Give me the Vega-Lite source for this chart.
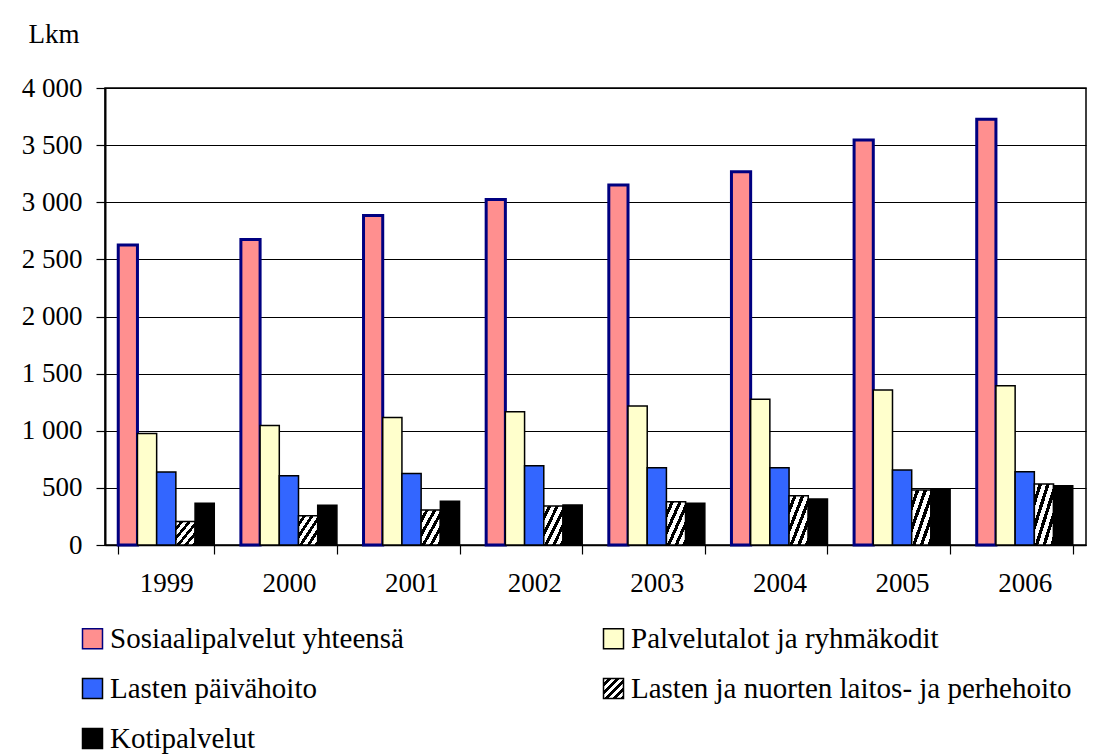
{
  "$schema": "https://vega.github.io/schema/vega-lite/v6.json",
  "width": 981,
  "height": 457,
  "autosize": {"type": "none"},
  "padding": {"left": 105, "top": 88, "right": 13, "bottom": 211},
  "background": "white",
  "config": {
    "font": "Liberation Serif",
    "view": {"stroke": "#000", "strokeWidth": 1.5},
    "axis": {"labelColor": "#000", "titleColor": "#000", "tickColor": "#000", "domainColor": "#000", "labelFont": "Liberation Serif", "titleFont": "Liberation Serif"},
    "legend": {"labelFont": "Liberation Serif", "labelColor": "#000"}
  },
  "data": {
    "values": [
      {"year": "1999", "series": "Sosiaalipalvelut yhteensä", "value": 2625},
      {"year": "1999", "series": "Palvelutalot ja ryhmäkodit", "value": 975},
      {"year": "1999", "series": "Lasten päivähoito", "value": 640},
      {"year": "1999", "series": "Lasten ja nuorten laitos- ja perhehoito", "value": 205},
      {"year": "1999", "series": "Kotipalvelut", "value": 365},
      {"year": "2000", "series": "Sosiaalipalvelut yhteensä", "value": 2675},
      {"year": "2000", "series": "Palvelutalot ja ryhmäkodit", "value": 1045},
      {"year": "2000", "series": "Lasten päivähoito", "value": 607},
      {"year": "2000", "series": "Lasten ja nuorten laitos- ja perhehoito", "value": 257},
      {"year": "2000", "series": "Kotipalvelut", "value": 347},
      {"year": "2001", "series": "Sosiaalipalvelut yhteensä", "value": 2885},
      {"year": "2001", "series": "Palvelutalot ja ryhmäkodit", "value": 1115},
      {"year": "2001", "series": "Lasten päivähoito", "value": 625},
      {"year": "2001", "series": "Lasten ja nuorten laitos- ja perhehoito", "value": 306},
      {"year": "2001", "series": "Kotipalvelut", "value": 382},
      {"year": "2002", "series": "Sosiaalipalvelut yhteensä", "value": 3025},
      {"year": "2002", "series": "Palvelutalot ja ryhmäkodit", "value": 1167},
      {"year": "2002", "series": "Lasten päivähoito", "value": 694},
      {"year": "2002", "series": "Lasten ja nuorten laitos- ja perhehoito", "value": 341},
      {"year": "2002", "series": "Kotipalvelut", "value": 350},
      {"year": "2003", "series": "Sosiaalipalvelut yhteensä", "value": 3150},
      {"year": "2003", "series": "Palvelutalot ja ryhmäkodit", "value": 1217},
      {"year": "2003", "series": "Lasten päivähoito", "value": 677},
      {"year": "2003", "series": "Lasten ja nuorten laitos- ja perhehoito", "value": 379},
      {"year": "2003", "series": "Kotipalvelut", "value": 365},
      {"year": "2004", "series": "Sosiaalipalvelut yhteensä", "value": 3268},
      {"year": "2004", "series": "Palvelutalot ja ryhmäkodit", "value": 1275},
      {"year": "2004", "series": "Lasten päivähoito", "value": 677},
      {"year": "2004", "series": "Lasten ja nuorten laitos- ja perhehoito", "value": 432},
      {"year": "2004", "series": "Kotipalvelut", "value": 403},
      {"year": "2005", "series": "Sosiaalipalvelut yhteensä", "value": 3545},
      {"year": "2005", "series": "Palvelutalot ja ryhmäkodit", "value": 1357},
      {"year": "2005", "series": "Lasten päivähoito", "value": 656},
      {"year": "2005", "series": "Lasten ja nuorten laitos- ja perhehoito", "value": 481},
      {"year": "2005", "series": "Kotipalvelut", "value": 490},
      {"year": "2006", "series": "Sosiaalipalvelut yhteensä", "value": 3726},
      {"year": "2006", "series": "Palvelutalot ja ryhmäkodit", "value": 1394},
      {"year": "2006", "series": "Lasten päivähoito", "value": 642},
      {"year": "2006", "series": "Lasten ja nuorten laitos- ja perhehoito", "value": 534},
      {"year": "2006", "series": "Kotipalvelut", "value": 519}
    ]
  },
  "mark": {"type": "bar"},
  "encoding": {
    "x": {
      "field": "year",
      "type": "nominal",
      "scale": {"paddingInner": 0.217, "paddingOuter": 0.108},
      "axis": {"title": null, "labelAngle": 0, "labelFont": "Liberation Serif", "labelFontSize": 27, "labelColor": "#000", "tickBand": "extent", "tickSize": 9, "labelPadding": 16, "domainWidth": 1.5, "domainColor": "#000", "tickColor": "#000", "tickWidth": 1.2, "grid": false}
    },
    "xOffset": {
      "field": "series",
      "type": "nominal",
      "sort": ["Sosiaalipalvelut yhteensä", "Palvelutalot ja ryhmäkodit", "Lasten päivähoito", "Lasten ja nuorten laitos- ja perhehoito", "Kotipalvelut"]
    },
    "y": {
      "field": "value",
      "type": "quantitative",
      "scale": {"domain": [0, 4000], "nice": false},
      "axis": {
        "title": "Lkm",
        "titleFont": "Liberation Serif",
        "titleColor": "#000",
        "titleAngle": 0,
        "titleAlign": "left",
        "titleBaseline": "alphabetic",
        "titleX": -77,
        "titleY": -46,
        "titleFontSize": 27,
        "titleFontWeight": "normal",
        "values": [0, 500, 1000, 1500, 2000, 2500, 3000, 3500, 4000],
        "labelExpr": "replace(format(datum.value, ','), ',', ' ')",
        "labelFont": "Liberation Serif",
        "labelColor": "#000",
        "labelFontSize": 27,
        "labelPadding": 14,
        "tickSize": 9,
        "tickColor": "#000",
        "tickWidth": 1.2,
        "domainColor": "#000",
        "domainWidth": 2,
        "grid": true,
        "gridColor": "#000",
        "gridWidth": 1
      }
    },
    "fill": {
      "field": "series",
      "type": "nominal",
      "scale": {
        "domain": ["Sosiaalipalvelut yhteensä", "Palvelutalot ja ryhmäkodit", "Lasten päivähoito", "Lasten ja nuorten laitos- ja perhehoito", "Kotipalvelut"],
        "range": [
          "#ff8f8f",
          "#ffffcc",
          "#3366ff",
          {"expr": "{gradient: 'linear', x1: 0, y1: 0, x2: 1, y2: 1, stops: [{offset: 0, color: '#fff'}, {offset: 0.11, color: '#fff'}, {offset: 0.11, color: '#000'}, {offset: 0.2, color: '#000'}, {offset: 0.2, color: '#fff'}, {offset: 0.31, color: '#fff'}, {offset: 0.31, color: '#000'}, {offset: 0.4, color: '#000'}, {offset: 0.4, color: '#fff'}, {offset: 0.51, color: '#fff'}, {offset: 0.51, color: '#000'}, {offset: 0.6, color: '#000'}, {offset: 0.6, color: '#fff'}, {offset: 0.71, color: '#fff'}, {offset: 0.71, color: '#000'}, {offset: 0.8, color: '#000'}, {offset: 0.8, color: '#fff'}, {offset: 0.91, color: '#fff'}, {offset: 0.91, color: '#000'}, {offset: 1, color: '#000'}]}"},
          "#000000"
        ]
      },
      "legend": {
        "title": null,
        "orient": "none",
        "legendX": -27,
        "legendY": 536,
        "direction": "horizontal",
        "columns": 2,
        "columnPadding": 195,
        "rowPadding": 20,
        "symbolType": "square",
        "symbolSize": 400,
        "symbolStrokeWidth": 1.5,
        "labelFont": "Liberation Serif",
        "labelColor": "#000",
        "labelFontSize": 29,
        "labelOffset": 3,
        "labelLimit": 600
      }
    },
    "stroke": {
      "field": "series",
      "type": "nominal",
      "scale": {
        "domain": ["Sosiaalipalvelut yhteensä", "Palvelutalot ja ryhmäkodit", "Lasten päivähoito", "Lasten ja nuorten laitos- ja perhehoito", "Kotipalvelut"],
        "range": ["#000080", "#000000", "#000000", "#000000", "#000000"]
      }
    },
    "strokeWidth": {
      "condition": {"test": "datum.series === 'Sosiaalipalvelut yhteensä'", "value": 3},
      "value": 1.5
    }
  }
}
